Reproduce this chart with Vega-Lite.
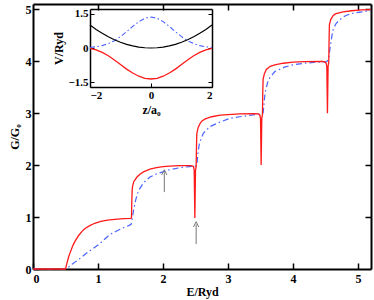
{
  "$schema": "https://vega.github.io/schema/vega-lite/v6.json",
  "width": 338,
  "height": 265,
  "autosize": "none",
  "padding": {"left": 33, "top": 4, "right": 3, "bottom": 31},
  "config": {
    "view": {"stroke": null},
    "axis": {
      "grid": false,
      "labelFont": "Liberation Serif",
      "labelFontWeight": "bold",
      "labelColor": "black",
      "titleFont": "Liberation Serif",
      "titleFontWeight": "bold",
      "titleColor": "black",
      "domainColor": "black",
      "tickColor": "black"
    }
  },
  "datasets": {
    "red": [
      {"E": 0, "G": 0}, {"E": 0.5, "G": 0}, {"E": 0.51, "G": 0.05}, {"E": 0.53, "G": 0.15},
      {"E": 0.55, "G": 0.24}, {"E": 0.57, "G": 0.31}, {"E": 0.6, "G": 0.41}, {"E": 0.62, "G": 0.47},
      {"E": 0.65, "G": 0.54}, {"E": 0.7, "G": 0.64}, {"E": 0.75, "G": 0.72}, {"E": 0.8, "G": 0.78},
      {"E": 0.88, "G": 0.84}, {"E": 0.95, "G": 0.88}, {"E": 1.03, "G": 0.91}, {"E": 1.1, "G": 0.93},
      {"E": 1.18, "G": 0.945}, {"E": 1.3, "G": 0.96}, {"E": 1.4, "G": 0.97}, {"E": 1.5, "G": 0.975},
      {"E": 1.515, "G": 0.98}, {"E": 1.52, "G": 1.3}, {"E": 1.525, "G": 1.5}, {"E": 1.53, "G": 1.58},
      {"E": 1.55, "G": 1.68}, {"E": 1.6, "G": 1.77}, {"E": 1.65, "G": 1.83}, {"E": 1.7, "G": 1.87},
      {"E": 1.8, "G": 1.92}, {"E": 1.9, "G": 1.95}, {"E": 2.0, "G": 1.97}, {"E": 2.1, "G": 1.98},
      {"E": 2.26, "G": 1.99}, {"E": 2.4, "G": 1.99}, {"E": 2.45, "G": 1.985}, {"E": 2.47, "G": 1.97},
      {"E": 2.48, "G": 1.9}, {"E": 2.49, "G": 0.98}, {"E": 2.5, "G": 1.9}, {"E": 2.51, "G": 1.97},
      {"E": 2.515, "G": 2.35}, {"E": 2.52, "G": 2.6}, {"E": 2.54, "G": 2.72}, {"E": 2.57, "G": 2.8},
      {"E": 2.6, "G": 2.85}, {"E": 2.65, "G": 2.89}, {"E": 2.75, "G": 2.93}, {"E": 2.88, "G": 2.96},
      {"E": 3.0, "G": 2.97}, {"E": 3.18, "G": 2.985}, {"E": 3.4, "G": 2.99}, {"E": 3.47, "G": 2.985},
      {"E": 3.49, "G": 2.96}, {"E": 3.5, "G": 2.9}, {"E": 3.51, "G": 2.0}, {"E": 3.52, "G": 2.9},
      {"E": 3.53, "G": 2.98}, {"E": 3.535, "G": 3.4}, {"E": 3.54, "G": 3.65}, {"E": 3.56, "G": 3.76},
      {"E": 3.59, "G": 3.84}, {"E": 3.65, "G": 3.9}, {"E": 3.72, "G": 3.93}, {"E": 3.85, "G": 3.96},
      {"E": 4.0, "G": 3.98}, {"E": 4.18, "G": 3.99}, {"E": 4.45, "G": 3.995}, {"E": 4.49, "G": 3.985},
      {"E": 4.51, "G": 3.96}, {"E": 4.52, "G": 3.9}, {"E": 4.53, "G": 3.0}, {"E": 4.54, "G": 3.9},
      {"E": 4.55, "G": 3.98}, {"E": 4.555, "G": 4.4}, {"E": 4.56, "G": 4.7}, {"E": 4.58, "G": 4.8},
      {"E": 4.62, "G": 4.88}, {"E": 4.65, "G": 4.91}, {"E": 4.77, "G": 4.95}, {"E": 4.9, "G": 4.97},
      {"E": 5.05, "G": 4.985}, {"E": 5.2, "G": 4.99}
    ],
    "blue": [
      {"E": 0, "G": 0}, {"E": 0.5, "G": 0}, {"E": 0.51, "G": 0.0}, {"E": 0.6, "G": 0.09},
      {"E": 0.72, "G": 0.2}, {"E": 0.85, "G": 0.33}, {"E": 1.0, "G": 0.46}, {"E": 1.18, "G": 0.66},
      {"E": 1.3, "G": 0.74}, {"E": 1.4, "G": 0.8}, {"E": 1.48, "G": 0.84}, {"E": 1.51, "G": 0.86},
      {"E": 1.53, "G": 1.0}, {"E": 1.55, "G": 1.15}, {"E": 1.58, "G": 1.33}, {"E": 1.62, "G": 1.5},
      {"E": 1.7, "G": 1.66}, {"E": 1.8, "G": 1.77}, {"E": 1.9, "G": 1.83}, {"E": 2.0, "G": 1.87},
      {"E": 2.1, "G": 1.91}, {"E": 2.26, "G": 1.95}, {"E": 2.4, "G": 1.97}, {"E": 2.5, "G": 1.98},
      {"E": 2.52, "G": 2.0}, {"E": 2.54, "G": 2.25}, {"E": 2.56, "G": 2.42}, {"E": 2.62, "G": 2.61},
      {"E": 2.72, "G": 2.74}, {"E": 2.88, "G": 2.83}, {"E": 3.03, "G": 2.9}, {"E": 3.18, "G": 2.93},
      {"E": 3.35, "G": 2.96}, {"E": 3.5, "G": 2.98}, {"E": 3.54, "G": 3.0}, {"E": 3.57, "G": 3.39},
      {"E": 3.62, "G": 3.64}, {"E": 3.72, "G": 3.8}, {"E": 3.88, "G": 3.89}, {"E": 4.0, "G": 3.93},
      {"E": 4.18, "G": 3.96}, {"E": 4.35, "G": 3.98}, {"E": 4.52, "G": 3.99}, {"E": 4.55, "G": 4.05},
      {"E": 4.57, "G": 4.25}, {"E": 4.6, "G": 4.5}, {"E": 4.62, "G": 4.62}, {"E": 4.66, "G": 4.72},
      {"E": 4.72, "G": 4.8}, {"E": 4.8, "G": 4.87}, {"E": 4.88, "G": 4.91}, {"E": 5.0, "G": 4.94},
      {"E": 5.2, "G": 4.97}
    ],
    "arrows": [
      {"E": 2.02, "tail": 1.48, "tip": 1.86},
      {"E": 2.51, "tail": 0.48, "tip": 0.86}
    ],
    "pot": [
      {"z": -2, "V": 1.0, "c": "k"}, {"z": -1.8, "V": 0.81, "c": "k"}, {"z": -1.6, "V": 0.64, "c": "k"},
      {"z": -1.4, "V": 0.49, "c": "k"}, {"z": -1.2, "V": 0.36, "c": "k"}, {"z": -1.0, "V": 0.25, "c": "k"},
      {"z": -0.8, "V": 0.16, "c": "k"}, {"z": -0.6, "V": 0.09, "c": "k"}, {"z": -0.4, "V": 0.04, "c": "k"},
      {"z": -0.2, "V": 0.01, "c": "k"}, {"z": 0, "V": 0, "c": "k"}, {"z": 0.2, "V": 0.01, "c": "k"},
      {"z": 0.4, "V": 0.04, "c": "k"}, {"z": 0.6, "V": 0.09, "c": "k"}, {"z": 0.8, "V": 0.16, "c": "k"},
      {"z": 1.0, "V": 0.25, "c": "k"}, {"z": 1.2, "V": 0.36, "c": "k"}, {"z": 1.4, "V": 0.49, "c": "k"},
      {"z": 1.6, "V": 0.64, "c": "k"}, {"z": 1.8, "V": 0.81, "c": "k"}, {"z": 2.0, "V": 1.0, "c": "k"},
      {"z": -2, "V": 0.025, "c": "b"}, {"z": -1.8, "V": 0.053, "c": "b"}, {"z": -1.6, "V": 0.104, "c": "b"},
      {"z": -1.4, "V": 0.19, "c": "b"}, {"z": -1.2, "V": 0.32, "c": "b"}, {"z": -1.0, "V": 0.497, "c": "b"},
      {"z": -0.8, "V": 0.712, "c": "b"}, {"z": -0.6, "V": 0.942, "c": "b"}, {"z": -0.4, "V": 1.15, "c": "b"},
      {"z": -0.2, "V": 1.297, "c": "b"}, {"z": 0, "V": 1.35, "c": "b"}, {"z": 0.2, "V": 1.297, "c": "b"},
      {"z": 0.4, "V": 1.15, "c": "b"}, {"z": 0.6, "V": 0.942, "c": "b"}, {"z": 0.8, "V": 0.712, "c": "b"},
      {"z": 1.0, "V": 0.497, "c": "b"}, {"z": 1.2, "V": 0.32, "c": "b"}, {"z": 1.4, "V": 0.19, "c": "b"},
      {"z": 1.6, "V": 0.104, "c": "b"}, {"z": 1.8, "V": 0.053, "c": "b"}, {"z": 2.0, "V": 0.025, "c": "b"},
      {"z": -2, "V": -0.02, "c": "r"}, {"z": -1.8, "V": -0.08, "c": "r"}, {"z": -1.6, "V": -0.19, "c": "r"},
      {"z": -1.4, "V": -0.34, "c": "r"}, {"z": -1.2, "V": -0.52, "c": "r"}, {"z": -1.0, "V": -0.72, "c": "r"},
      {"z": -0.8, "V": -0.92, "c": "r"}, {"z": -0.6, "V": -1.09, "c": "r"}, {"z": -0.4, "V": -1.23, "c": "r"},
      {"z": -0.2, "V": -1.32, "c": "r"}, {"z": 0, "V": -1.35, "c": "r"}, {"z": 0.2, "V": -1.32, "c": "r"},
      {"z": 0.4, "V": -1.23, "c": "r"}, {"z": 0.6, "V": -1.09, "c": "r"}, {"z": 0.8, "V": -0.92, "c": "r"},
      {"z": 1.0, "V": -0.72, "c": "r"}, {"z": 1.2, "V": -0.52, "c": "r"}, {"z": 1.4, "V": -0.34, "c": "r"},
      {"z": 1.6, "V": -0.19, "c": "r"}, {"z": 1.8, "V": -0.08, "c": "r"}, {"z": 2.0, "V": -0.02, "c": "r"}
    ]
  },
  "layer": [
    {
      "layer": [
        {
          "data": {"name": "blue"},
          "mark": {"type": "line", "color": "#4a64ff", "strokeWidth": 1.2, "strokeDash": [6, 3, 1.5, 3]},
          "encoding": {
            "x": {"field": "E", "type": "quantitative", "scale": {"domain": [0, 5.2], "nice": false, "zero": false},
                  "axis": {"orient": "top", "values": [1, 2, 3, 4, 5], "labels": false, "title": null, "tickSize": -6, "tickWidth": 1.5, "domainWidth": 2}},
            "y": {"field": "G", "type": "quantitative", "scale": {"domain": [0, 5.1], "nice": false, "zero": false},
                  "axis": {"orient": "right", "values": [1, 2, 3, 4, 5], "labels": false, "title": null, "tickSize": -6, "tickWidth": 1.5, "domainWidth": 2}}
          }
        },
        {
          "data": {"name": "red"},
          "mark": {"type": "line", "color": "#ff1a1a", "strokeWidth": 1.3},
          "encoding": {
            "x": {"field": "E", "type": "quantitative", "scale": {"domain": [0, 5.2], "nice": false, "zero": false},
                  "axis": {"orient": "bottom", "values": [0, 1, 2, 3, 4, 5], "title": "E/Ryd", "tickSize": -6, "tickWidth": 1.5, "domainWidth": 2,
                           "labelFontSize": 12, "labelPadding": 10, "titleFontSize": 12, "titlePadding": 2}},
            "y": {"field": "G", "type": "quantitative", "scale": {"domain": [0, 5.1], "nice": false, "zero": false},
                  "axis": {"orient": "left", "values": [0, 1, 2, 3, 4, 5], "title": "G/G₀", "tickSize": -6, "tickWidth": 1.5, "domainWidth": 2,
                           "labelFontSize": 12, "labelPadding": 8, "titleFontSize": 12, "titlePadding": 4}}
          }
        },
        {
          "data": {"name": "arrows"},
          "mark": {"type": "rule", "color": "#777777", "strokeWidth": 1},
          "encoding": {
            "x": {"field": "E", "type": "quantitative", "axis": null},
            "y": {"field": "tail", "type": "quantitative", "axis": null},
            "y2": {"field": "tip"}
          }
        },
        {
          "data": {"name": "arrows"},
          "mark": {"type": "point", "shape": "M-1,1L0,-1L1,1", "size": 28, "filled": false, "color": "#777777", "strokeWidth": 1, "opacity": 1},
          "encoding": {
            "x": {"field": "E", "type": "quantitative", "axis": null},
            "y": {"field": "tip", "type": "quantitative", "axis": null}
          }
        }
      ],
      "resolve": {"axis": {"x": "independent", "y": "independent"}}
    },
    {
      "data": {"name": "pot"},
      "layer": [
        {
          "transform": [{"filter": "datum.c === 'b'"}],
          "mark": {"type": "line", "color": "#4a64ff", "strokeWidth": 1.1, "strokeDash": [5, 2.5, 1.5, 2.5]},
          "encoding": {
            "x": {"field": "z", "type": "quantitative", "scale": {"domain": [-2, 2], "range": [57, 179], "nice": false, "zero": false},
                  "axis": {"orient": "top", "offset": -5, "values": [-2, 0, 2], "labels": false, "title": null, "ticks": false, "domainWidth": 1.5}},
            "y": {"field": "V", "type": "quantitative", "scale": {"domain": [-1.7, 1.7], "range": [83, 5], "nice": false, "zero": false},
                  "axis": {"orient": "right", "offset": -159, "values": [-1.5, 0, 1.5], "labels": false, "title": null, "tickSize": -4, "domainWidth": 1.5}}
          }
        },
        {
          "transform": [{"filter": "datum.c === 'k'"}],
          "mark": {"type": "line", "color": "black", "strokeWidth": 1.2},
          "encoding": {
            "x": {"field": "z", "type": "quantitative", "scale": {"domain": [-2, 2], "range": [57, 179], "nice": false, "zero": false},
                  "axis": {"orient": "bottom", "offset": -182, "values": [-2, 0, 2], "format": ".2~g", "title": "z/a₀", "tickSize": -4, "domainWidth": 1.5,
                           "labelFontSize": 11, "labelPadding": 6, "titleFontSize": 12, "titlePadding": 4}},
            "y": {"field": "V", "type": "quantitative", "scale": {"domain": [-1.7, 1.7], "range": [83, 5], "nice": false, "zero": false},
                  "axis": {"orient": "left", "offset": -57, "values": [-1.5, 0, 1.5], "format": ".2~g", "title": "V/Ryd", "tickSize": -4, "domainWidth": 1.5,
                           "labelFontSize": 11, "labelPadding": 6, "titleFontSize": 12, "titlePadding": 2}}
          }
        },
        {
          "transform": [{"filter": "datum.c === 'r'"}],
          "mark": {"type": "line", "color": "#ff1a1a", "strokeWidth": 1.3},
          "encoding": {
            "x": {"field": "z", "type": "quantitative", "axis": null},
            "y": {"field": "V", "type": "quantitative", "axis": null}
          }
        }
      ],
      "resolve": {"axis": {"x": "independent", "y": "independent"}}
    }
  ],
  "resolve": {"scale": {"x": "independent", "y": "independent"}}
}
